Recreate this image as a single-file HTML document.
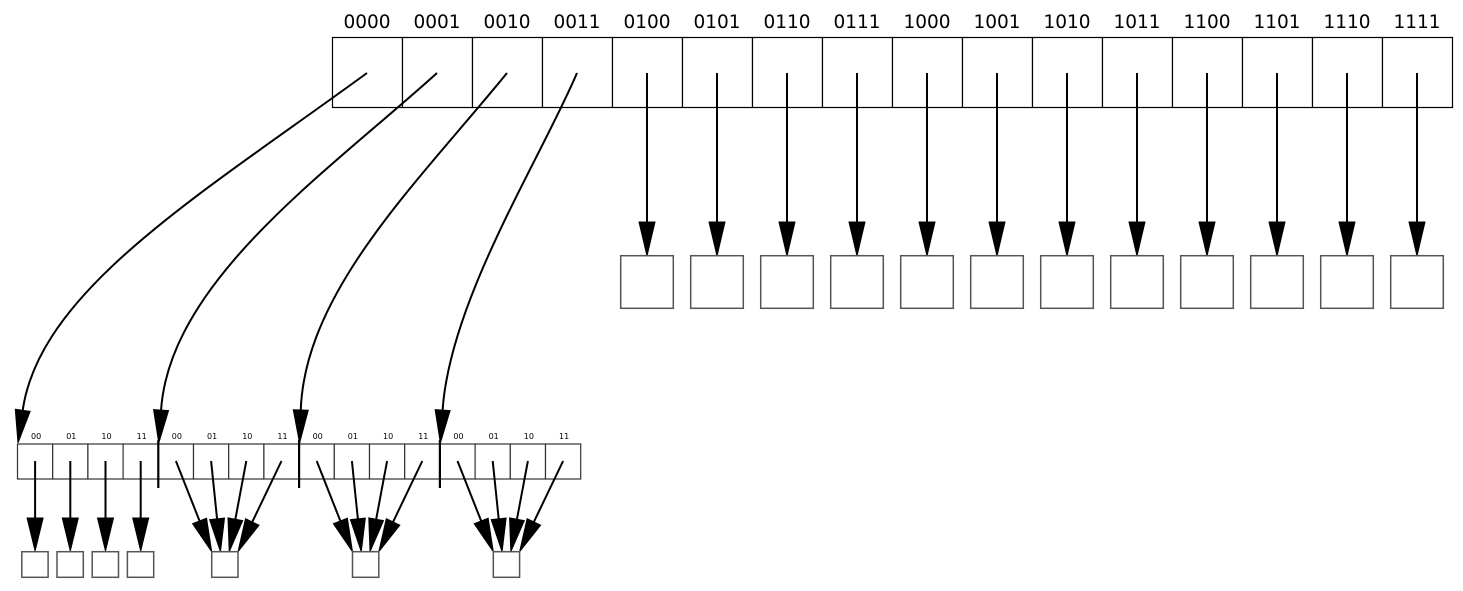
<!DOCTYPE html>
<html><head><meta charset="utf-8"><style>
html,body{margin:0;padding:0;background:#fff;}
svg{display:block;}
text{font-family:"DejaVu Sans","Liberation Sans",sans-serif;fill:#000;}
</style></head><body>
<svg id="chart" width="1463" height="591" viewBox="0 0 1463 591" xmlns="http://www.w3.org/2000/svg"></svg>
<script>
const topLabels = ["0000","0001","0010","0011","0100","0101","0110","0111","1000","1001","1010","1011","1100","1101","1110","1111"];
const subLabels = ["00","01","10","11"];
const splitIndices = [0,1,2,3];
const curveCtrl = [[200,195,40,290],[330,170,170,280],[420,180,305,290],[540,160,450,300]];

const svg = document.getElementById('chart');
const NS = 'http://www.w3.org/2000/svg';
function mk(tag, attrs){ const e=document.createElementNS(NS,tag); for(const k in attrs) e.setAttribute(k,attrs[k]); svg.appendChild(e); return e; }
function arrowHead(ex,ey,dx,dy,len,w){
  const L=Math.hypot(dx,dy); const ux=dx/L, uy=dy/L;
  const tx=ex+ux*len, ty=ey+uy*len;
  const px=-uy*w/2, py=ux*w/2;
  const p=mk('polygon',{points:`${ex+px},${ey+py} ${ex-px},${ey-py} ${tx},${ty}`,fill:'#000',stroke:'#000','stroke-width':1});
  return p;
}
const TX0=332, TW=70, TY=37, TH=70;
topLabels.forEach((lab,i)=>{
  const x=TX0+i*TW;
  const r=mk('rect',{x:x+0.5,y:TY+0.5,width:TW,height:TH,fill:'#fff',stroke:'#000','stroke-width':1.2});
  
  
  const t=mk('text',{x:x+TW/2,y:28,'text-anchor':'middle','font-size':18.5});
  t.textContent=lab;
  
  
});
// straight arrows to buckets
topLabels.forEach((lab,i)=>{
  if(splitIndices.includes(i)) return;
  const cx=TX0+i*TW+TW/2;
  const l=mk('line',{x1:cx,y1:73,x2:cx,y2:222,stroke:'#000','stroke-width':2});
  
  
  const a=arrowHead(cx,222,0,1,34,16);
  
  
  const b=mk('rect',{x:cx-26.3,y:255.7,width:52.6,height:52.6,fill:'#fff',stroke:'#555','stroke-width':1.5});
  
  
});
// second level
const BX0=17.5, BW=35.2, BY=444, BH=35;
for(let g=0; g<splitIndices.length; g++){
  for(let j=0;j<4;j++){
    const x=BX0+(g*4+j)*BW;
    const r=mk('rect',{x:x,y:BY,width:BW,height:BH,fill:'#fff',stroke:'#333','stroke-width':1.2});
    
    
    const t=mk('text',{x:x+BW/2+1,y:439,'text-anchor':'middle','font-size':8});
    t.textContent=subLabels[j];
    
    
  }
}
for(let g=1; g<splitIndices.length; g++){
  const x=BX0+g*4*BW;
  const d=mk('line',{x1:x,y1:440,x2:x,y2:488,stroke:'#000','stroke-width':2.2});
  
  
}
// curves
splitIndices.forEach((idx,g)=>{
  const sx=TX0+idx*TW+TW/2, sy=73;
  const tipX=BX0+g*4*BW+0.5, tipY=443;
  const c=curveCtrl[g];
  const ey=410;
  // estimate base x from tangent
  const dx=tipX-c[2], dy=tipY-c[3]; const L=Math.hypot(dx,dy);
  const ex=tipX-dx/L*33, eyy=tipY-dy/L*33;
  const p=mk('path',{d:`M${sx},${sy} C${c[0]},${c[1]} ${c[2]},${c[3]} ${ex},${eyy}`,fill:'none',stroke:'#000','stroke-width':2});
  
  
  const a=arrowHead(ex,eyy,dx,dy,33,15);
  
  
});
// bottom buckets
for(let g=0; g<splitIndices.length; g++){
  if(g===0){
    for(let j=0;j<4;j++){
      const cx=BX0+j*BW+BW/2;
      const l=mk('line',{x1:cx,y1:461,x2:cx,y2:518,stroke:'#000','stroke-width':2});
      
      
      const a=arrowHead(cx,518,0,1,33,16);
      
      
      const b=mk('rect',{x:cx-13.3,y:551.7,width:26.3,height:25.6,fill:'#fff',stroke:'#555','stroke-width':1.5});
      
      
    }
  } else {
    const gx=BX0+g*4*BW;
    const bx=gx+53.4;
    for(let j=0;j<4;j++){
      const sx=gx+j*BW+BW/2, sy=461;
      const tx=bx+j*26.3/3, ty=551.7;
      const dx=tx-sx, dy=ty-sy, L=Math.hypot(dx,dy);
      const ex=tx-dx/L*33, ey=ty-dy/L*33;
      const l=mk('line',{x1:sx,y1:sy,x2:ex,y2:ey,stroke:'#000','stroke-width':2});
      
      
      const a=arrowHead(ex,ey,dx,dy,33,15);
      
      
    }
    const b=mk('rect',{x:bx,y:551.7,width:26.3,height:25.6,fill:'#fff',stroke:'#555','stroke-width':1.5});
    
    
  }
}
</script>
</body></html>
